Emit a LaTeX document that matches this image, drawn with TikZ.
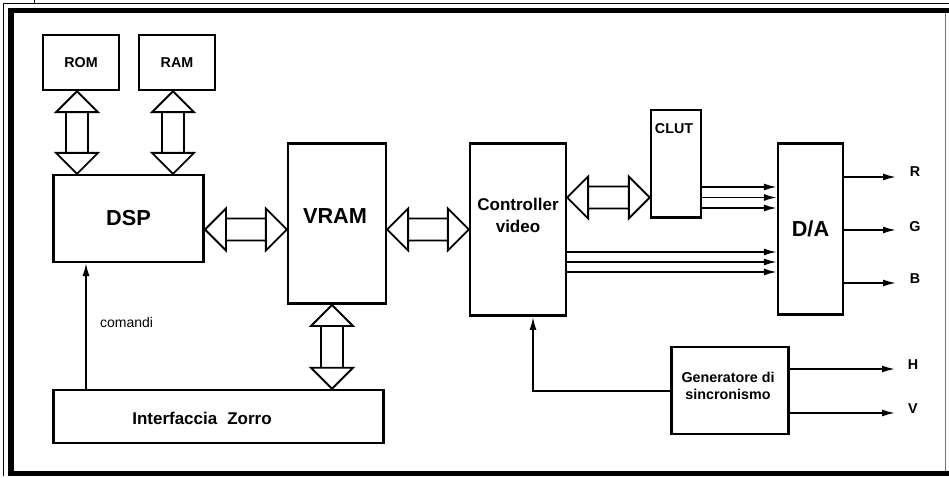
\documentclass[tikz,border=0pt]{standalone}
\usepackage{fontspec}
\setmainfont{Liberation Sans}
\usetikzlibrary{arrows.meta,calc}
\tikzset{
  box/.style={draw, line width=2.6bp, inner sep=0pt, anchor=center},
  bus/.style={draw, line width=1.9bp, line join=miter},
  sig/.style={line width=1.7bp, -{Latex[length=13bp,width=7bp]}},
  lbl/.style={font=\fontsize{14.3bp}{17.5bp}\selectfont\bfseries, inner sep=0pt, align=center},
  mid/.style={font=\fontsize{17bp}{22bp}\selectfont\bfseries, inner sep=0pt, align=center},
  big/.style={font=\fontsize{21.7bp}{26bp}\selectfont\bfseries, inner sep=0pt},
  plain/.style={font=\fontsize{14bp}{17bp}\selectfont, inner sep=0pt},
}
\newcommand\vbus[2]{%
  \draw[bus] let \p1=(#1), \p2=(#2) in
    (\x1,\y1) -- (\x1+21bp,\y1-21bp) -- (\x1-21bp,\y1-21bp) -- cycle
    (\x1,\y2) -- (\x1+21bp,\y2+21bp) -- (\x1-21bp,\y2+21bp) -- cycle
    (\x1-11bp,\y1-21bp) -- (\x1-11bp,\y2+21bp)
    (\x1+11bp,\y1-21bp) -- (\x1+11bp,\y2+21bp);}
\newcommand\hbus[2]{%
  \draw[bus] let \p1=(#1), \p2=(#2) in
    (\x1,\y1) -- (\x1+21bp,\y1+21bp) -- (\x1+21bp,\y1-21bp) -- cycle
    (\x2,\y1) -- (\x2-21bp,\y1+21bp) -- (\x2-21bp,\y1-21bp) -- cycle
    (\x1+21bp,\y1+11bp) -- (\x2-21bp,\y1+11bp)
    (\x1+21bp,\y1-11bp) -- (\x2-21bp,\y1-11bp);}
\begin{document}
\begin{tikzpicture}[x=1bp,y=-1bp]
\useasboundingbox (0,0) rectangle (949,478);
% frame
\draw[line width=5.5bp, line join=miter] (949,10.5) -- (11,10.5) -- (11,473.5) -- (949,473.5);
\draw[line width=1bp] (3,476) -- (3,4) -- (949,4);
\draw[line width=1bp] (34,0) -- (34,4);
\draw[line width=1bp, black!55] (945,13) -- (945,471);
% boxes
\node[box, lbl, minimum width=76, minimum height=55] (rom) at (81,62.5) {ROM};
\node[box, lbl, minimum width=76, minimum height=55] (ram) at (177,62.5) {RAM};
\node[box, big, minimum width=151, minimum height=87] (dsp) at (128.5,218.5) {DSP};
\node[box, minimum width=98, minimum height=161] (vram) at (337,223.5) {};
\node[big] (vramT) at (335,216) {VRAM};
\node[box, minimum width=96, minimum height=173] (ctrl) at (518,229.5) {};
\node[mid] (ctrlT) at (518,215) {Controller\\video};
\node[box, minimum width=50, minimum height=108] (clut) at (676,164) {};
\node[lbl] (clutT) at (674,128.5) {CLUT};
\node[box, big, minimum width=65, minimum height=172] (da) at (810.5,229) {D/A};
\node[box, minimum width=118, minimum height=87] (gen) at (730,390.5) {};
\node[lbl] (genT) at (728,386) {Generatore di\\sincronismo};
\node[box, minimum width=331, minimum height=53] (zorro) at (218.5,416.5) {};
\node[mid] (zorroT) at (202,418.5) {Interfaccia\hspace{10bp}Zorro};
% buses
\vbus{77,0 |- rom.south}{77,0 |- dsp.north}
\vbus{173,0 |- ram.south}{173,0 |- dsp.north}
\hbus{dsp.east |- 0,229.5}{vram.west |- 0,229.5}
\hbus{vram.east |- 0,229.5}{ctrl.west |- 0,229.5}
\vbus{332,0 |- vram.south}{332,0 |- zorro.north}
\hbus{ctrl.east |- 0,197.5}{clut.west |- 0,197.5}
% signals
\foreach \yy in {187,197.5,208} \draw[sig] (clut.east |- 0,\yy) -- (da.west |- 0,\yy);
\foreach \yy in {252,262,272} \draw[sig] (ctrl.east |- 0,\yy) -- (da.west |- 0,\yy);
\coordinate (rEnd) at (896,177);
\coordinate (gEnd) at (896,230);
\coordinate (bEnd) at (896,283);
\coordinate (hEnd) at (895,369);
\coordinate (vEnd) at (895,413);
\draw[sig] (da.east |- rEnd) -- (rEnd);
\draw[sig] (da.east |- gEnd) -- (gEnd);
\draw[sig] (da.east |- bEnd) -- (bEnd);
\draw[sig] (gen.east |- hEnd) -- (hEnd);
\draw[sig] (gen.east |- vEnd) -- (vEnd);
\node[lbl] (rT) at (915,172) {R};
\node[lbl] (gT) at (915,227) {G};
\node[lbl] (bT) at (915,279) {B};
\node[lbl] (hT) at (913,365) {H};
\node[lbl] (vT) at (913,409) {V};
\draw[sig] (gen.west |- 0,391) -| (533,0 |- ctrl.south);
\draw[sig] (86,0 |- zorro.north) -- (86,0 |- dsp.south);
\node[plain, anchor=west] (cmdT) at (100,322) {comandi};
\end{tikzpicture}
\end{document}
